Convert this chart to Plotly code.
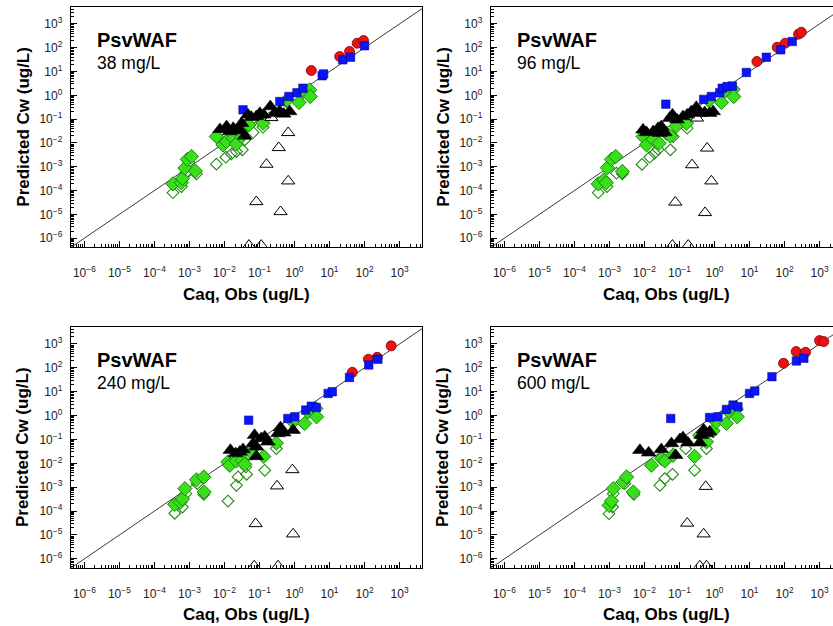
import numpy as np
import plotly.graph_objects as go

# ---------------- data (log10 values) ----------------
panel_titles = ["PsvWAF", "PsvWAF", "PsvWAF", "PsvWAF"]
panel_loads = ["38 mg/L", "96 mg/L", "240 mg/L", "600 mg/L"]

tick_exponents = [-6, -5, -4, -3, -2, -1, 0, 1, 2, 3]

# Panel 1: 38 mg/L
p1_red_x = [0.48, 1.29, 1.57, 1.79, 1.97]
p1_red_y = [1.04, 1.63, 1.84, 2.19, 2.30]
p1_blue_x = [-1.47, -0.42, -0.16, 0.07, 0.24, 0.79, 0.83, 1.38, 1.60, 2.00]
p1_blue_y = [-0.61, -0.26, -0.05, 0.11, 0.30, 0.82, 0.90, 1.49, 1.60, 2.08]
p1_tri_x = [-2.13, -1.94, -1.85, -1.66, -1.51, -1.42, -1.33, -1.23, -1.09, -0.99, -0.88, -0.69, -0.57, -0.42, -0.31, -0.14, -1.56, -1.75]
p1_tri_y = [-1.43, -1.31, -1.52, -1.48, -1.17, -1.71, -0.82, -0.92, -0.89, -0.75, -0.82, -0.47, -0.75, -0.68, -0.78, -0.68, -1.45, -1.38]
p1_otri_x = [-0.66, -0.18, -0.45, -0.80, -0.18, -1.09, -0.40, -1.30, -0.95]
p1_otri_y = [-0.94, -1.57, -2.20, -2.90, -3.60, -4.47, -4.89, -6.30, -6.30]
p1_gd_x = [-3.47, -3.23, -3.20, -3.13, -3.06, -2.94, -2.83, -2.23, -2.04, -1.94, -1.75, -1.66, -1.51, -1.37, -1.30, -0.90, -0.21, 0.13, 0.24, 0.43, 0.45, -1.56]
p1_gd_y = [-3.72, -3.67, -3.49, -3.06, -2.69, -2.57, -3.18, -1.73, -2.08, -1.94, -1.80, -2.04, -1.73, -1.29, -1.24, -1.17, -0.19, -0.30, 0.16, 0.23, -0.05, -1.48]
p1_od_x = [-3.47, -3.23, -3.11, -3.01, -2.80, -2.23, -1.96, -1.80, -1.66, -1.49, -1.42, -1.18, -0.90, -0.33, -3.04]
p1_od_y = [-4.09, -3.83, -3.27, -2.82, -3.30, -2.89, -2.60, -2.46, -2.36, -2.29, -1.87, -1.56, -1.34, -0.61, -3.20]

# Panel 2: 96 mg/L
p2_red_x = [1.21, 1.79, 2.02, 2.40, 2.48]
p2_red_y = [1.42, 2.02, 2.19, 2.57, 2.65]
p2_blue_x = [-1.39, -0.31, -0.09, 0.15, 0.22, 0.36, 0.51, 0.91, 1.48, 1.89, 2.22]
p2_blue_y = [-0.37, -0.17, -0.05, 0.11, 0.30, 0.37, 0.39, 0.96, 1.60, 1.91, 2.26]
p2_tri_x = [-2.04, -1.94, -1.75, -1.61, -1.52, -1.42, -1.28, -1.20, -1.07, -0.90, -0.78, -0.66, -0.52, -0.42, -0.28, -0.14, -0.04, -1.56]
p2_tri_y = [-1.45, -1.56, -1.52, -1.38, -1.31, -1.56, -0.96, -0.82, -1.03, -0.89, -0.82, -0.68, -0.50, -0.75, -0.72, -0.75, -0.68, -1.59]
p2_otri_x = [-0.50, -0.21, -0.64, -0.09, -1.12, -0.27, -1.20, -0.75]
p2_otri_y = [-0.96, -2.22, -2.92, -3.60, -4.49, -4.93, -6.30, -6.30]
p2_gd_x = [-3.32, -3.16, -3.09, -3.06, -2.94, -2.82, -2.63, -2.04, -1.94, -1.75, -1.58, -1.37, -1.26, -1.09, -0.80, -0.16, 0.20, 0.29, 0.53, 0.55]
p2_gd_y = [-3.72, -3.55, -3.67, -3.04, -2.69, -2.57, -3.20, -1.73, -2.08, -1.85, -2.01, -1.59, -1.71, -1.29, -1.17, -0.22, -0.30, 0.16, 0.25, -0.05]
p2_od_x = [-3.32, -3.07, -2.80, -2.63, -2.07, -1.85, -1.71, -1.61, -1.26, -1.18, -0.78, -0.42]
p2_od_y = [-4.09, -3.83, -3.27, -3.30, -2.90, -2.60, -2.43, -2.27, -2.29, -1.73, -1.38, -0.75]

# Panel 3: 240 mg/L
p3_red_x = [1.65, 2.11, 2.36, 2.76]
p3_red_y = [1.81, 2.36, 2.44, 2.92]
p3_blue_x = [-1.31, -0.19, 0.01, 0.32, 0.48, 0.62, 0.96, 1.08, 1.57, 2.12, 2.38]
p3_blue_y = [-0.19, -0.12, -0.05, 0.23, 0.39, 0.34, 0.93, 1.00, 1.60, 2.12, 2.36]
p3_tri_x = [-1.83, -1.68, -1.47, -1.18, -1.14, -1.09, -0.95, -0.85, -0.76, -0.47, -0.40, -0.31, -0.04, -1.09, -1.56]
p3_tri_y = [-1.45, -1.59, -1.42, -1.17, -0.82, -1.71, -0.96, -0.89, -1.10, -0.75, -0.50, -0.72, -0.61, -1.31, -1.52]
p3_otri_x = [-0.06, -0.50, -1.11, -0.04, -1.15, -0.47]
p3_otri_y = [-2.27, -2.95, -4.53, -4.96, -6.30, -6.30]
p3_gd_x = [-3.42, -3.26, -3.20, -3.13, -2.80, -2.59, -2.58, -1.90, -1.85, -1.66, -1.49, -1.42, -1.23, -0.88, -0.52, -0.04, 0.29, 0.39, 0.61, 0.63]
p3_gd_y = [-3.72, -3.62, -3.49, -3.06, -2.69, -2.57, -3.20, -1.94, -2.08, -1.90, -1.87, -2.04, -1.56, -1.71, -1.15, -0.26, -0.33, 0.16, 0.30, -0.05]
p3_od_x = [-3.42, -3.20, -3.10, -2.78, -2.59, -1.90, -1.66, -1.61, -1.37, -0.85, -0.52, -1.39, -0.95]
p3_od_y = [-4.09, -3.83, -3.27, -2.85, -3.30, -3.58, -2.92, -2.57, -2.46, -2.29, -1.38, -2.15, -1.59]

# Panel 4: 600 mg/L
p4_red_x = [1.97, 2.33, 2.60, 3.00, 3.12]
p4_red_y = [2.19, 2.68, 2.65, 3.14, 3.10]
p4_blue_x = [-1.25, -0.14, 0.10, 0.34, 0.53, 0.67, 1.00, 1.15, 1.64, 2.34, 2.55]
p4_blue_y = [-0.12, -0.08, -0.05, 0.26, 0.44, 0.37, 0.93, 1.03, 1.63, 2.29, 2.40]
p4_tri_x = [-2.13, -1.88, -1.52, -1.23, -1.11, -0.99, -0.90, -0.76, -0.42, -0.31, -0.23, -0.38, -0.14]
p4_tri_y = [-1.45, -1.56, -1.42, -1.17, -1.66, -1.00, -0.92, -1.14, -1.14, -0.59, -0.75, -0.82, -0.68]
p4_otri_x = [-0.25, -0.78, -0.31, -0.42, -0.23]
p4_otri_y = [-2.97, -4.51, -4.96, -6.30, -6.30]
p4_gd_x = [-3.01, -2.94, -2.89, -2.61, -2.51, -2.32, -1.80, -1.51, -1.42, -1.18, -0.57, -0.42, -0.23, -0.04, 0.05, 0.34, 0.41, 0.62, 0.65]
p4_gd_y = [-3.76, -3.58, -3.06, -2.78, -2.57, -3.20, -2.08, -1.80, -1.90, -1.66, -1.71, -0.82, -1.10, -0.64, -0.26, -0.33, 0.16, 0.27, -0.05]
p4_od_x = [-3.01, -2.91, -2.56, -2.30, -1.56, -1.42, -1.20, -0.57, -0.23, -0.82, -2.89]
p4_od_y = [-4.11, -3.83, -2.85, -3.30, -2.92, -2.64, -2.46, -2.29, -1.38, -1.38, -3.27]

panels = [
    dict(red=(p1_red_x, p1_red_y), blue=(p1_blue_x, p1_blue_y), tri=(p1_tri_x, p1_tri_y),
         otri=(p1_otri_x, p1_otri_y), gd=(p1_gd_x, p1_gd_y), od=(p1_od_x, p1_od_y)),
    dict(red=(p2_red_x, p2_red_y), blue=(p2_blue_x, p2_blue_y), tri=(p2_tri_x, p2_tri_y),
         otri=(p2_otri_x, p2_otri_y), gd=(p2_gd_x, p2_gd_y), od=(p2_od_x, p2_od_y)),
    dict(red=(p3_red_x, p3_red_y), blue=(p3_blue_x, p3_blue_y), tri=(p3_tri_x, p3_tri_y),
         otri=(p3_otri_x, p3_otri_y), gd=(p3_gd_x, p3_gd_y), od=(p3_od_x, p3_od_y)),
    dict(red=(p4_red_x, p4_red_y), blue=(p4_blue_x, p4_blue_y), tri=(p4_tri_x, p4_tri_y),
         otri=(p4_otri_x, p4_otri_y), gd=(p4_gd_x, p4_gd_y), od=(p4_od_x, p4_od_y)),
]

# ---------------- layout geometry (pixels) ----------------
W, H = 833, 626
FONT = "Liberation Sans, Arial, Helvetica, sans-serif"
frames = [  # left, top, right, bottom in px
    (70.7, 7, 422, 247),
    (490.7, 7, 833, 247),
    (70.7, 327, 422, 567.7),
    (490.7, 327, 833, 567.7),
]
X_LO, Y_LO, Y_HI = -6.39, -6.37, 3.71
PX_PER_DEC_X = (422 - 70.7) / (3.64 - X_LO)

styles = {
    "od": dict(symbol="diamond-open", size=9, color="#1f8a12", line=dict(width=1.1, color="#1f8a12")),
    "gd": dict(symbol="diamond", size=11, color="#38e01a", line=dict(width=0.9, color="#177a08")),
    "otri": dict(symbol="triangle-up", size=11.5, color="white", line=dict(width=1, color="black")),
    "tri": dict(symbol="triangle-up", size=13, color="black", line=dict(width=0.5, color="black")),
    "red": dict(symbol="circle", size=10, color="#ee1111", line=dict(width=0.8, color="#800000")),
    "blue": dict(symbol="square", size=8.5, color="#0a14ff", line=dict(width=0.5, color="#00007a")),
}
order = ["od", "gd", "red", "blue", "otri", "tri"]

tickvals = [10.0 ** e for e in tick_exponents]
ticktext = ["10<sup>%s</sup>" % (str(e).replace("-", "\u2212")) for e in tick_exponents]

fig = go.Figure()
annotations = []
for i, (pdata, fr) in enumerate(zip(panels, frames)):
    l, t, r, b = fr
    xa = "x" if i == 0 else "x%d" % (i + 1)
    ya = "y" if i == 0 else "y%d" % (i + 1)
    # 1:1 line
    fig.add_trace(go.Scatter(x=[1e-8, 1e5], y=[1e-8, 1e5], mode="lines",
                             line=dict(color="#3a3a3a", width=1), xaxis=xa, yaxis=ya,
                             showlegend=False, hoverinfo="skip"))
    for key in order:
        lx, ly = pdata[key]
        fig.add_trace(go.Scatter(x=np.power(10.0, lx), y=np.power(10.0, ly), mode="markers",
                                 marker=styles[key], xaxis=xa, yaxis=ya, showlegend=False))

    x_hi = X_LO + (r - l) / PX_PER_DEC_X
    right_panel = i % 2 == 1
    axis_common = dict(type="log", showgrid=False, zeroline=False, showline=True,
                       linecolor="black", linewidth=1, ticks="inside", ticklen=6,
                       tickcolor="black", tickwidth=1,
                       tickmode="array", tickvals=tickvals, ticktext=ticktext,
                       tickfont=dict(family=FONT, size=12, color="#222222"),
                       minor=dict(ticks="inside", ticklen=3, tickcolor="black",
                                  tickwidth=0.8, dtick="D1", showgrid=False))
    xkey = "xaxis" if i == 0 else "xaxis%d" % (i + 1)
    ykey = "yaxis" if i == 0 else "yaxis%d" % (i + 1)
    fig.update_layout(**{
        xkey: dict(axis_common, domain=[l / W, r / W], anchor=ya, range=[X_LO, x_hi],
                   mirror=True, ticklabelstandoff=15),
        ykey: dict(axis_common, domain=[1 - b / H, 1 - t / H], anchor=xa, range=[Y_LO, Y_HI],
                   mirror=(not right_panel), ticklabelstandoff=5),
    })
    # panel labels
    annotations.append(dict(text="<b>%s</b>" % panel_titles[i], x=(l + 24) / W, y=1 - (t + 33) / H,
                            xref="paper", yref="paper", xanchor="left", yanchor="middle",
                            showarrow=False, font=dict(family=FONT, size=20, color="black")))
    annotations.append(dict(text=panel_loads[i], x=(l + 24) / W, y=1 - (t + 56) / H,
                            xref="paper", yref="paper", xanchor="left", yanchor="middle",
                            showarrow=False, font=dict(family=FONT, size=17.5, color="black")))
    # axis titles
    annotations.append(dict(text="<b>Caq, Obs (ug/L)</b>", x=(l + 175.5) / W, y=1 - (b + 47) / H,
                            xref="paper", yref="paper", xanchor="center", yanchor="middle",
                            showarrow=False, font=dict(family=FONT, size=17, color="black")))
    annotations.append(dict(text="<b>Predicted Cw (ug/L)</b>", x=(l - 48) / W, y=1 - (t + b) / 2 / H,
                            xref="paper", yref="paper", xanchor="center", yanchor="middle",
                            textangle=-90, showarrow=False,
                            font=dict(family=FONT, size=17, color="black")))

fig.update_layout(width=W, height=H, margin=dict(l=0, r=0, t=0, b=0),
                  paper_bgcolor="white", plot_bgcolor="white",
                  annotations=annotations, showlegend=False,
                  font=dict(family=FONT))
fig.write_html("out.html", config={"displayModeBar": False},
               post_script="document.body.style.margin='0';document.body.style.overflow='hidden';")
